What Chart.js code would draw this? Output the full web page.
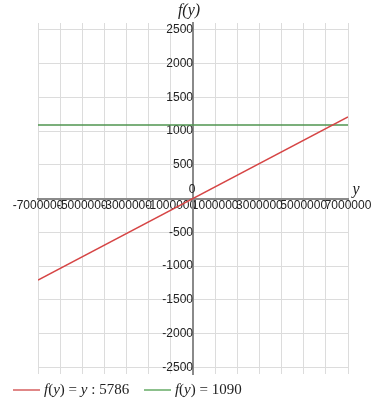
<!DOCTYPE html>
<html>
<head>
<meta charset="utf-8">
<script src="https://cdn.jsdelivr.net/npm/chart.js@4/dist/chart.umd.min.js"></script>
<style>
  html, body { margin: 0; padding: 0; background: #fff; }
  #wrap { position: relative; width: 384px; height: 409px; }
  #legend { position: absolute; left: 13px; top: 381px; font-family: "Liberation Serif", serif; font-size: 15px; color: #222; white-space: nowrap; }
  #legend .item { display: inline-block; margin-right: 11px; }
  #legend .swatch { display: inline-block; width: 27px; height: 2px; vertical-align: middle; margin-right: 4px; position: relative; top: -1px; }
</style>
</head>
<body>
<div id="wrap">
  <canvas id="chart" width="384" height="409"></canvas>
  <div id="legend">
    <span class="item"><span class="swatch" style="background:#e08787"></span><i>f</i>(<i>y</i>) = <i>y</i> : 5786</span>
    <span class="item"><span class="swatch" style="background:#8cc08c"></span><i>f</i>(<i>y</i>) = 1090</span>
  </div>
</div>
<script>
// data
const lineX = [-7000000, 7000000];
const redY = [-1209.8, 1209.8];
const greenY = [1090, 1090];
const seriesNames = ['f(y) = y : 5786', 'f(y) = 1090'];
const xTicks = [-7000000, -5000000, -3000000, -1000000, 1000000, 3000000, 5000000, 7000000];
const yTicks = [-2500, -2000, -1500, -1000, -500, 500, 1000, 1500, 2000, 2500];

const tickFont = { family: '"Liberation Sans", Arial, sans-serif', size: 12 };

// axis names and the origin label
const axisTitles = {
    id: 'axisTitles',
    afterDraw(chart) {
        const { ctx, scales: { x, y } } = chart;
        const x0 = x.getPixelForValue(0);
        const y0 = y.getPixelForValue(0);
        ctx.save();
        ctx.fillStyle = '#222';
        ctx.font = 'italic 16px "Liberation Serif", serif';
        ctx.textAlign = 'center';
        ctx.textBaseline = 'alphabetic';
        ctx.fillText('f(y)', x0 - 4, 15);
        ctx.fillText('y', chart.chartArea.right + 8, y0 - 5);
        ctx.font = '12px "Liberation Sans", Arial, sans-serif';
        ctx.textAlign = 'center';
        ctx.textBaseline = 'middle';
        ctx.fillText('0', x0 - 1, y0 - 9);
        ctx.restore();
    }
};

const toPoints = (ys) => lineX.map((v, i) => ({ x: v, y: ys[i] }));

new Chart(document.getElementById('chart'), {
    type: 'scatter',
    data: {
        datasets: [{
            label: seriesNames[0],
            data: toPoints(redY),
            showLine: true,
            borderColor: '#d64545',
            borderWidth: 1.5,
            pointRadius: 0
        }, {
            label: seriesNames[1],
            data: toPoints(greenY),
            showLine: true,
            borderColor: '#4f944f',
            borderWidth: 1.5,
            pointRadius: 0
        }]
    },
    options: {
        responsive: false,
        animation: false,
        layout: { padding: { left: 38, right: 36, top: 23, bottom: 35 } },
        plugins: { legend: { display: false }, tooltip: { enabled: false } },
        scales: {
            x: {
                type: 'linear',
                position: { y: 0 },
                min: -7000000,
                max: 7000000,
                afterBuildTicks: (axis) => {
                    const all = [];
                    for (let i = 0; i < xTicks.length; i++) {
                        all.push({ value: xTicks[i] });
                        if (i < xTicks.length - 1) all.push({ value: (xTicks[i] + xTicks[i + 1]) / 2 });
                    }
                    axis.ticks = all;
                },
                ticks: {
                    autoSkip: false,
                    maxRotation: 0,
                    padding: 0,
                    color: '#222',
                    font: tickFont,
                    callback: (v) => xTicks.includes(v) ? String(v) : ''
                },
                grid: { color: '#dcdcdc', drawTicks: false },
                border: { color: '#8a8a8a', width: 2 }
            },
            y: {
                type: 'linear',
                position: { x: 0 },
                min: -2600,
                max: 2600,
                afterBuildTicks: (axis) => {
                    axis.ticks = [-2500, -2000, -1500, -1000, -500, 0, 500, 1000, 1500, 2000, 2500].map(v => ({ value: v }));
                },
                ticks: {
                    autoSkip: false,
                    padding: 2,
                    color: '#222',
                    font: tickFont,
                    callback: (v) => yTicks.includes(v) ? String(v) : ''
                },
                grid: { color: '#dcdcdc', drawTicks: false },
                border: { color: '#8a8a8a', width: 2 }
            }
        }
    },
    plugins: [axisTitles]
});
</script>
</body>
</html>
